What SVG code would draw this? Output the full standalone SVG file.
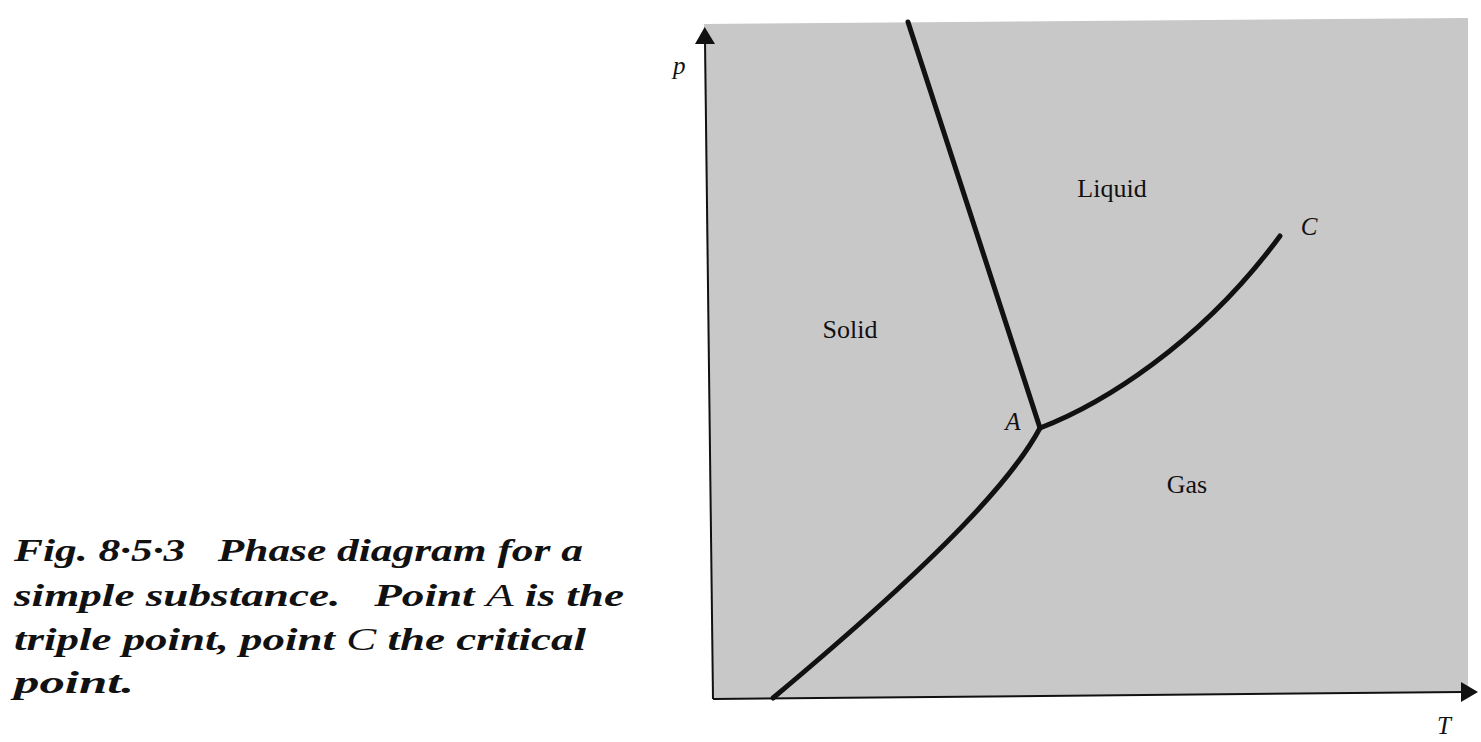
<svg xmlns="http://www.w3.org/2000/svg" width="1481" height="742" viewBox="0 0 1481 742">
<style>
.curve{fill:none;stroke:#111;stroke-width:5;stroke-linecap:round;stroke-linejoin:round}
.axis{fill:none;stroke:#111;stroke-width:2}
.lbl{font-family:"Liberation Serif","DejaVu Serif",serif;font-size:26px;fill:#111}
.ital{font-family:"Liberation Serif","DejaVu Serif",serif;font-style:italic;font-size:25px;fill:#111}
.cap{font-family:"Liberation Serif","DejaVu Serif",serif;font-style:italic;font-weight:bold;font-size:31px;fill:#111}
</style>
<rect width="1481" height="742" fill="#ffffff"/>
<g id="phase-area">
<polygon points="713,699 1468,692 1468,18 704,24" fill="#c8c8c8"/>
</g>
<g id="axes">
<line class="axis" x1="713" y1="699" x2="705" y2="40"/>
<polygon points="704.7,27 695,44 715,44" fill="#111"/>
<line class="axis" x1="713" y1="699" x2="1462" y2="692"/>
<polygon points="1478,692 1461,682 1461,702" fill="#111"/>
<text class="ital" x="673" y="74">p</text>
<text class="ital" x="1437" y="734">T</text>
</g>
<g id="connectors">
<path id="melting" class="curve" d="M908,22 L1040,428"/>
<path id="vaporization" class="curve" d="M1040,428 C1100,405 1200,345 1280,236"/>
<path id="sublimation" class="curve" d="M1040,428 C1015,475 950,550 773,698"/>
</g>
<g id="labels">
<text class="lbl" x="1112" y="197" text-anchor="middle">Liquid</text>
<text class="lbl" x="850" y="338" text-anchor="middle">Solid</text>
<text class="lbl" x="1187" y="493" text-anchor="middle">Gas</text>
<text class="ital" x="1013" y="430" text-anchor="middle">A</text>
<text class="ital" x="1309" y="235" text-anchor="middle">C</text>
</g>
<g id="caption">
<text class="cap" x="14" y="561" textLength="569" lengthAdjust="spacingAndGlyphs" xml:space="preserve">Fig. 8·5·3   Phase diagram for a</text>
<text class="cap" x="14" y="606" textLength="610" lengthAdjust="spacingAndGlyphs" xml:space="preserve">simple substance.   Point <tspan font-weight="normal">A</tspan> is the</text>
<text class="cap" x="14" y="650" textLength="572" lengthAdjust="spacingAndGlyphs" xml:space="preserve">triple point, point <tspan font-weight="normal">C</tspan> the critical</text>
<text class="cap" x="14" y="693" textLength="120" lengthAdjust="spacingAndGlyphs">point.</text>
</g>
</svg>
